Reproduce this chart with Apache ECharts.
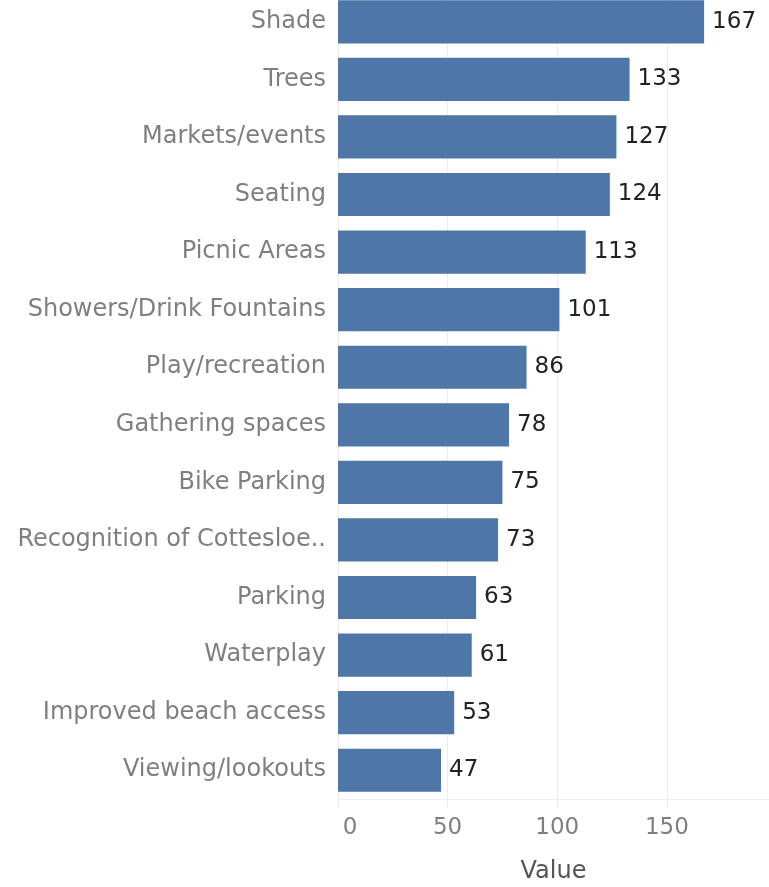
<!DOCTYPE html>
<html>
<head>
<meta charset="utf-8">
<script src="https://cdn.jsdelivr.net/npm/echarts@6/dist/echarts.min.js"></script>
<style>
  html, body { margin: 0; padding: 0; background: #ffffff; overflow: hidden; }
  /* the plot starts slightly above the visible page, so the first bar sits at the top edge */
  #chart { position: absolute; left: 0; top: -7px; width: 769px; height: 894px; }
</style>
</head>
<body>
<div id="chart"></div>
<script>
// Amenity preferences, ranked by count
const categories = [
  'Shade', 'Trees', 'Markets/events', 'Seating', 'Picnic Areas',
  'Showers/Drink Fountains', 'Play/recreation', 'Gathering spaces',
  'Bike Parking', 'Recognition of Cottesloe..', 'Parking', 'Waterplay',
  'Improved beach access', 'Viewing/lookouts'
];
const values = [167, 133, 127, 124, 113, 101, 86, 78, 75, 73, 63, 61, 53, 47];
const xTicks = [0, 50, 100, 150];

const chart = echarts.init(document.getElementById('chart'));
const font = '"DejaVu Sans", Verdana, sans-serif';

chart.setOption({
  animation: false,
  backgroundColor: '#ffffff',
  grid: {
    left: 338, right: 0, top: 0, bottom: 88,
    containLabel: false,
    outerBoundsMode: 'none'
  },
  xAxis: {
    type: 'value',
    min: 0,
    max: 196.6,
    interval: 50,
    name: 'Value',
    nameLocation: 'middle',
    nameGap: 61,
    nameTextStyle: { color: '#555555', fontSize: 24, fontFamily: font },
    axisLine: { show: true, lineStyle: { color: '#ececec', width: 1 } },
    axisTick: { show: true, length: 9, lineStyle: { color: '#ececec' } },
    splitLine: { show: true, lineStyle: { color: '#ececec', width: 1 } },
    axisLabel: {
      color: '#7f7f7f',
      fontSize: 23,
      fontFamily: font,
      margin: 18,
      showMaxLabel: false,
      formatter: function (v) {
        if (xTicks.indexOf(v) < 0) return '';
        return v === 0 ? '{z|0}' : String(v);
      },
      rich: { z: { padding: [0, 0, 0, 24], color: '#7f7f7f', fontSize: 23, fontFamily: font } }
    }
  },
  yAxis: {
    type: 'category',
    data: categories,
    inverse: true,
    axisLine: { show: false },
    axisTick: { show: false },
    splitLine: { show: false },
    axisLabel: { color: '#7f7f7f', fontSize: 24, fontFamily: font, margin: 12 }
  },
  series: [{
    type: 'bar',
    data: values,
    barCategoryGap: '25%',
    itemStyle: { color: '#4e76a6' },
    label: {
      show: true,
      position: 'right',
      distance: 8,
      color: '#222222',
      fontSize: 23,
      fontFamily: font
    }
  }]
});
</script>
</body>
</html>
